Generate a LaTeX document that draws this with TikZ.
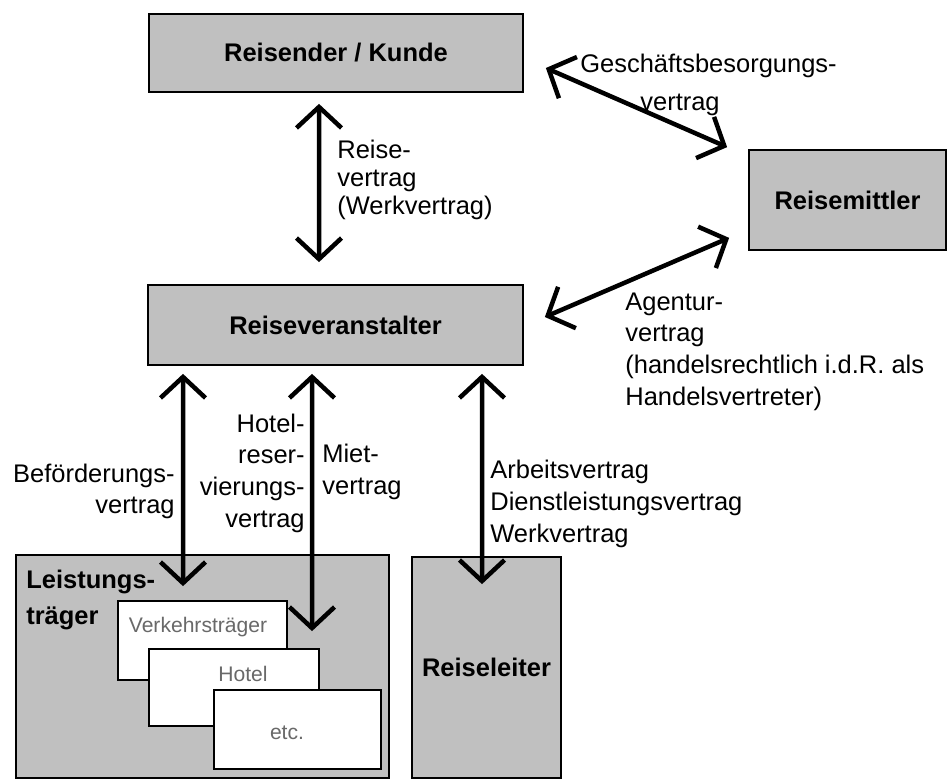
\documentclass[tikz,border=0pt]{standalone}
\usepackage{fontspec}
\setmainfont{Liberation Sans}
\usetikzlibrary{arrows.meta,positioning}
\definecolor{boxgray}{RGB}{192,192,192}
\definecolor{subgray}{RGB}{105,105,105}

\begin{document}
\begin{tikzpicture}
[>={Straight Barb[length=4.2mm,width=9mm]},
every node/.style={font=\fontsize{14.5}{18}\selectfont},
party/.style={draw, line width=1pt, fill=boxgray, font=\fontsize{14.5}{18}\selectfont\bfseries},
subbox/.style={draw, line width=0.8pt, fill=white},
subtext/.style={text=subgray, font=\fontsize{12}{14}\selectfont},
vertrag/.style={<->, line width=0.9mm},
lbl/.style={inner sep=0pt}
]
  \useasboundingbox (0,0) rectangle (18.96,-15.62);

  % Parteien
  \node[party, minimum width=7.48cm, minimum height=1.56cm] (kunde)   at (6.72,-1.06)  {Reisender / Kunde};
  \node[party, minimum width=3.94cm, minimum height=2.0cm]  (mittler) at (16.95,-4.0)  {Reisemittler};
  \node[party, minimum width=7.5cm,  minimum height=1.6cm]  (veranst) at (6.71,-6.5)   {Reiseveranstalter};
  \node[party, minimum width=7.46cm, minimum height=4.46cm] (traeger) at (4.05,-13.33) {};
  \node[party, minimum width=2.98cm, minimum height=4.42cm] (leiter)  at (9.73,-13.35) {Reiseleiter};
  \node[lbl, anchor=west, align=left, font=\fontsize{14.5}{20}\selectfont\bfseries]
                                                            (traegerlbl) at (0.52,-12.0) {Leistungs-\\träger};

  % Leistungstraeger im Einzelnen
  \node[subbox, minimum width=3.38cm, minimum height=1.58cm] (vt)    at (4.05,-12.81) {};
  \node[subtext] (vttext)    at ([yshift=-0.54cm,xshift=-0.09cm]vt.north) {Verkehrsträger};
  \node[subbox, minimum width=3.4cm,  minimum height=1.54cm] (hotel) at (4.68,-13.75) {};
  \node[subtext] (hoteltext) at ([yshift=-0.52cm,xshift=0.18cm]hotel.north) {Hotel};
  \node[subbox, minimum width=3.34cm, minimum height=1.58cm] (etc)   at (5.95,-14.59) {};
  \node[subtext] (etctext)   at ([yshift=-0.07cm,xshift=-0.21cm]etc.center) {etc.};

  % Vertraege
  \path
    ([xshift=-3.4mm,yshift=-2.2mm]kunde.south)     edge[vertrag] ([xshift=-3.3mm,yshift=4.4mm]veranst.north)
    ([xshift=4.4mm,yshift=-3mm]kunde.east)         edge[vertrag] ([xshift=-4.2mm,yshift=0.4mm]mittler.north west)
    ([xshift=4.2mm,yshift=1.6mm]veranst.east)      edge[vertrag] ([xshift=-3.8mm,yshift=2.6mm]mittler.south west)
    ([xshift=-30.5mm,yshift=-1.6mm]veranst.south) edge[vertrag] ([xshift=-3.9mm,yshift=-6.4mm]traeger.north)
    ([xshift=-4.7mm,yshift=-1.6mm]veranst.south)  edge[vertrag] ([xshift=21.9mm,yshift=-15.4mm]traeger.north)
    ([xshift=29.3mm,yshift=-1.6mm]veranst.south)  edge[vertrag] ([xshift=-0.9mm,yshift=-5.6mm]leiter.north)
    ;

  \node[lbl, anchor=west, align=left, font=\fontsize{14.5}{16}\selectfont]
                                        (reiselbl)   at (6.74,-3.6)    {Reise-\\vertrag\\(Werkvertrag)};
  \node[lbl, anchor=north west, align=left]
                                        (gbvlbl)     at (11.6,-1.08)   {Geschäftsbesorgungs-\\[3.5pt]\hspace*{1.2cm}vertrag};
  \node[lbl, anchor=west, align=left]   (agenturlbl) at (12.5,-7.03)   {Agentur-\\vertrag\\(handelsrechtlich i.d.R. als\\Handelsvertreter)};
  \node[lbl, anchor=east, align=right]  (befoerdlbl) at (3.5,-9.83)    {Beförderungs-\\vertrag};
  \node[lbl, anchor=east, align=right]  (hotellbl)   at (6.1,-9.46)    {Hotel-\\reser-\\vierungs-\\vertrag};
  \node[lbl, anchor=west, align=left]   (mietlbl)    at (6.44,-9.44)   {Miet-\\vertrag};
  \node[lbl, anchor=west, align=left]   (arbeitlbl)  at (9.8,-10.08)   {Arbeitsvertrag\\Dienstleistungsvertrag\\Werkvertrag};
\end{tikzpicture}
\end{document}
